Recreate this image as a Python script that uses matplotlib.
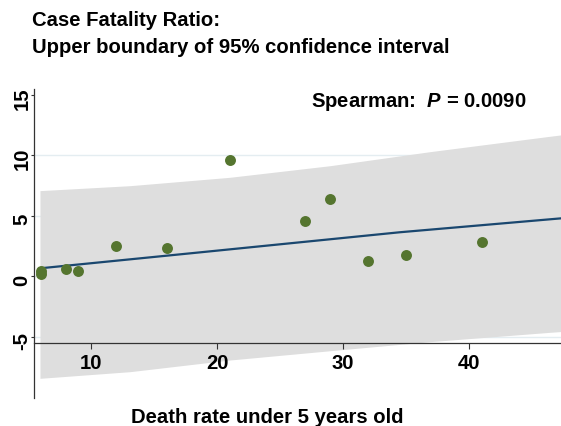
import matplotlib
matplotlib.use('Agg')
import matplotlib.pyplot as plt
from matplotlib.transforms import ScaledTranslation

plt.rcParams['font.family'] = ['Liberation Sans', 'DejaVu Sans']
plt.rcParams['font.weight'] = 'bold'
plt.rcParams['axes.unicode_minus'] = False
plt.rcParams['mathtext.fontset'] = 'custom'
plt.rcParams['mathtext.it'] = 'Liberation Sans:italic:bold'
plt.rcParams['mathtext.rm'] = 'Liberation Sans:bold'

# Observed points (death rate under 5, upper CFR boundary)
death_rate = [6, 6, 8, 9, 12, 16, 21, 27, 29, 32, 35, 41]
cfr_upper = [0.45, 0.18, 0.57, 0.4, 2.52, 2.33, 9.58, 4.56, 6.4, 1.26, 1.73, 2.85]

# Fitted line
fit_x = [5.95, 18.65, 34.5, 47.3]
fit_y = [0.65, 1.97, 3.63, 4.78]

# Shaded interval
band_x = [5.95, 13.1, 21.0, 28.97, 36.9, 46.4, 47.5]
band_hi = [7.07, 7.48, 8.17, 9.13, 10.29, 11.56, 11.7]
band_lo = [-8.44, -7.89, -6.93, -6.16, -5.41, -4.64, -4.56]

x_ticks = [10, 20, 30, 40]
y_ticks = [-5, 0, 5, 10, 15]
grid_levels = [-5, 0, 5, 10]

BAND = '#dedede'
LINE = '#1a476f'
DOTS = '#55752f'
GRID = '#e4edf1'
FS = 14.6


def main():
    fig = plt.figure(figsize=(5.61, 4.27), dpi=100)
    ax = fig.add_axes([0.0606, 0.0646, 0.9394, 0.7255])

    ax.set_xlim(5.476, 47.3)
    ax.set_ylim(-10.1, 15.5)

    for g in grid_levels:
        ax.axhline(g, color=GRID, lw=1.0, zorder=0)

    ax.fill_between(band_x, band_lo, band_hi, color=BAND, lw=0, zorder=1)
    ax.plot(fit_x, fit_y, color=LINE, lw=1.6, zorder=2)
    ax.scatter(death_rate, cfr_upper, s=62, color=DOTS, lw=0, zorder=3)

    ax.spines['top'].set_visible(False)
    ax.spines['right'].set_visible(False)
    ax.spines['bottom'].set_position(('data', -5.5))
    for side in ('left', 'bottom'):
        ax.spines[side].set_color('#333333')
        ax.spines[side].set_linewidth(0.9)

    ax.set_xticks(x_ticks)
    ax.set_yticks(y_ticks)
    ax.tick_params(axis='x', length=4.3, width=0.8, pad=3.2, labelsize=FS,
                   color='#333333')
    ax.tick_params(axis='y', length=2.2, width=0.8, pad=2.5, labelsize=FS,
                   color='#333333')
    # nudge the rotated y labels right and a bit down, like the original
    shift = ScaledTranslation(4 / 100, -3 / 100, fig.dpi_scale_trans)
    for lab in ax.get_yticklabels():
        lab.set_rotation(90)
        lab.set_va('center')
        lab.set_fontweight('bold')
        lab.set_transform(lab.get_transform() + shift)
    for lab in ax.get_xticklabels():
        lab.set_fontweight('bold')

    ax.text(0.9355, 0.961, r'Spearman:  $P$ = 0.0090', transform=ax.transAxes,
            ha='right', va='center', fontsize=FS, fontweight='bold')

    fig.text(31.7 / 561, 1 - 21.0 / 427, 'Case Fatality Ratio:',
             ha='left', va='center', fontsize=FS, fontweight='bold')
    fig.text(31.7 / 561, 1 - 47.5 / 427, 'Upper boundary of 95% confidence interval',
             ha='left', va='center', fontsize=FS, fontweight='bold')
    fig.text(267.5 / 561, 1 - 417.7 / 427, 'Death rate under 5 years old',
             ha='center', va='center', fontsize=FS, fontweight='bold')

    fig.savefig('out.png', dpi=100)


if __name__ == '__main__':
    main()
